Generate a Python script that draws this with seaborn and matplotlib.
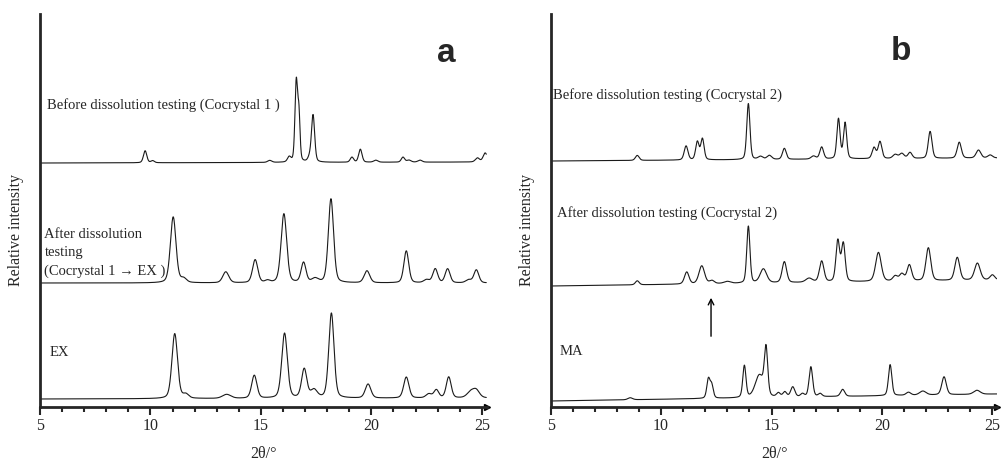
import numpy as np
import pandas as pd
import matplotlib
matplotlib.use("Agg")
import matplotlib.pyplot as plt
import seaborn as sns

# scan window (2theta, deg)
theta_start, theta_end = 5.0, 25.2

# ---- panel a : cocrystal 1 / EX ----
# before dissolution (cocrystal 1)
a_top_pos = [9.76, 10.1, 15.4, 16.28, 16.6, 16.72, 17.2, 17.36, 19.12, 19.5, 20.2, 21.43, 21.7, 22.2, 24.8, 25.15]
a_top_height = [12, 2, 2, 5, 80, 45, 4, 47, 5, 13, 2, 5, 2, 2, 4, 9]
a_top_fwhm = [0.18, 0.18, 0.22, 0.18, 0.14, 0.12, 0.18, 0.17, 0.18, 0.18, 0.22, 0.18, 0.22, 0.22, 0.22, 0.22]
a_top_base = [244, 245]

# after dissolution (cocrystal 1 -> EX)
a_mid_pos = [11.03, 11.5, 13.41, 14.74, 15.3, 16.04, 16.93, 17.45, 18.17, 19.8, 21.58, 22.5, 22.89, 23.45, 24.4, 24.75]
a_mid_height = [66, 4, 11, 23, 2, 69, 20, 4, 84, 12, 32, 3, 14, 14, 3, 13]
a_mid_fwhm = [0.3, 0.3, 0.32, 0.28, 0.25, 0.3, 0.26, 0.35, 0.28, 0.3, 0.26, 0.3, 0.26, 0.26, 0.3, 0.26]
a_mid_base = [124, 124]

# EX
a_bot_pos = [11.1, 11.6, 13.45, 14.7, 16.07, 16.96, 17.4, 18.19, 19.85, 21.58, 22.6, 22.94, 23.5, 24.5, 24.75]
a_bot_height = [65, 4, 4, 23, 65, 29, 8, 85, 14, 21, 4, 8, 21, 6, 7]
a_bot_fwhm = [0.3, 0.3, 0.45, 0.28, 0.3, 0.28, 0.35, 0.28, 0.3, 0.28, 0.3, 0.26, 0.26, 0.4, 0.35]
a_bot_base = [8, 9]

# ---- panel b : cocrystal 2 / MA ----
# before dissolution (cocrystal 2)
b_top_pos = [8.92, 11.13, 11.64, 11.87, 13.95, 14.5, 14.9, 15.58, 16.9, 17.27, 18.03, 18.33, 19.64, 19.91,
             20.6, 20.9, 21.27, 22.18, 23.5, 24.37, 24.9]
b_top_height = [5, 14, 18, 21, 56, 3, 4, 11, 3, 12, 40, 36, 11, 17, 4, 5, 6, 27, 16, 8, 3]
b_top_fwhm = [0.2, 0.2, 0.18, 0.18, 0.17, 0.25, 0.25, 0.2, 0.25, 0.2, 0.17, 0.17, 0.2, 0.2,
              0.25, 0.25, 0.22, 0.2, 0.22, 0.25, 0.25]
b_top_base = [246, 249]

# after dissolution (cocrystal 2)
b_mid_pos = [8.92, 11.16, 11.84, 12.3, 13.0, 13.95, 14.63, 15.58, 16.7, 17.27, 18.0, 18.25, 19.84,
             20.6, 20.9, 21.24, 22.1, 23.41, 24.32, 25.0]
b_mid_height = [4, 12, 18, 3, 2, 57, 14, 21, 4, 21, 41, 38, 29, 5, 7, 16, 33, 23, 17, 5]
b_mid_fwhm = [0.2, 0.24, 0.3, 0.25, 0.35, 0.17, 0.35, 0.24, 0.35, 0.24, 0.2, 0.2, 0.3,
              0.25, 0.25, 0.24, 0.26, 0.26, 0.3, 0.25]
b_mid_base = [121, 127]

# MA
b_bot_pos = [8.6, 12.14, 12.29, 13.77, 14.45, 14.75, 15.31, 15.6, 15.96, 16.4, 16.78, 17.2, 18.22,
             20.37, 21.2, 21.85, 22.81, 24.3]
b_bot_height = [2, 19, 13, 32, 22, 46, 4, 5, 10, 3, 30, 3, 7, 31, 3, 4, 18, 4]
b_bot_fwhm = [0.25, 0.17, 0.17, 0.17, 0.45, 0.18, 0.2, 0.2, 0.22, 0.2, 0.19, 0.2, 0.22,
              0.18, 0.25, 0.35, 0.24, 0.35]
b_bot_base = [6, 13]


def pattern(pos, height, fwhm, base, eta=0.3):
    x = np.linspace(theta_start, theta_end, 4000)
    y = base[0] + (base[1] - base[0]) * (x - theta_start) / (theta_end - theta_start)
    for p, h, w in zip(pos, height, fwhm):
        d = 4 * (x - p) ** 2 / w ** 2
        y = y + h * (eta / (1 + d) + (1 - eta) * np.exp(-np.log(2) * d))
    return pd.DataFrame({"two_theta": x, "intensity": y})


sns.set_style("ticks")
plt.rcParams["font.family"] = ["Liberation Serif", "DejaVu Serif"]

fig = plt.figure(figsize=(10.04, 4.66), dpi=100)
ax_a = fig.add_axes([0.0398, 0.1266, 0.4452, 0.8433])
ax_b = fig.add_axes([0.5485, 0.1266, 0.4450, 0.8433])

traces_a = [(a_top_pos, a_top_height, a_top_fwhm, a_top_base),
            (a_mid_pos, a_mid_height, a_mid_fwhm, a_mid_base),
            (a_bot_pos, a_bot_height, a_bot_fwhm, a_bot_base)]
traces_b = [(b_top_pos, b_top_height, b_top_fwhm, b_top_base),
            (b_mid_pos, b_mid_height, b_mid_fwhm, b_mid_base),
            (b_bot_pos, b_bot_height, b_bot_fwhm, b_bot_base)]

for ax, traces in [(ax_a, traces_a), (ax_b, traces_b)]:
    for tr in traces:
        df = pattern(*tr)
        sns.lineplot(data=df, x="two_theta", y="intensity", ax=ax, color="#1a1a1a",
                     lw=0.8, estimator=None)
    ax.set_xlim(5, 25.23)
    ax.set_ylim(0, 393)
    ax.set_xticks([5, 10, 15, 20, 25])
    ax.set_xticks(np.arange(5, 26, 1), minor=True)
    ax.set_yticks([])
    ax.tick_params(axis="x", which="major", length=6, width=1.5, labelsize=11.5, pad=2)
    ax.tick_params(axis="x", which="minor", length=3.5, width=1.5)
    sns.despine(ax=ax)
    ax.spines["left"].set_linewidth(2)
    ax.spines["bottom"].set_linewidth(2)
    ax.plot(1, 0, ">", color="black", markersize=4, transform=ax.transAxes, clip_on=False)
    ax.set_xlabel("2θ/°", fontsize=11.5)
    ax.xaxis.set_label_coords(0.5, -0.1)
    ax.set_ylabel("Relative intensity", fontsize=11.5)
    ax.yaxis.set_label_coords(-0.036, 0.45)

txt = dict(fontsize=10.5, va="center", ha="left")
ax_a.text(5.3, 302, "Before dissolution testing (Cocrystal 1 )", **txt)
ax_a.text(5.2, 154, "After dissolution\ntesting\n(Cocrystal 1 \u2192 EX )", linespacing=1.5, **txt)
ax_a.text(5.45, 55, "EX", **txt)
ax_a.text(23.4, 354, "a", fontsize=24, fontweight="bold", family="Liberation Sans", ha="center", va="center")

ax_b.text(5.1, 312, "Before dissolution testing (Cocrystal 2)", **txt)
ax_b.text(5.3, 194, "After dissolution testing (Cocrystal 2)", **txt)
ax_b.text(5.4, 56, "MA", **txt)
ax_b.text(20.85, 356, "b", fontsize=24, fontweight="bold", family="Liberation Sans", ha="center", va="center")
ax_b.annotate("", xy=(12.26, 112), xytext=(12.26, 68),
              arrowprops=dict(arrowstyle="->", lw=1, color="black"))

fig.savefig("out.png", dpi=100)
